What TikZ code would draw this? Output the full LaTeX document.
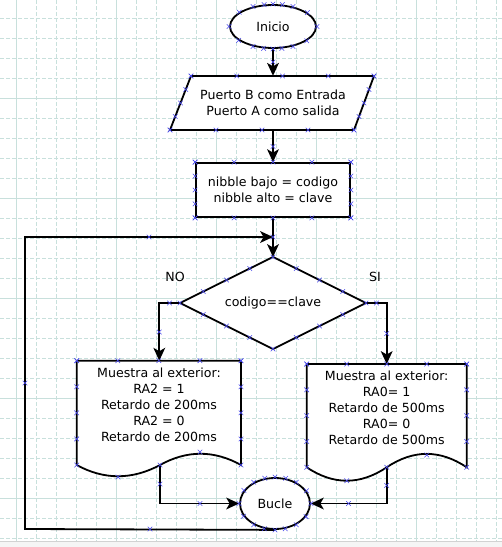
\documentclass[tikz,border=0pt]{standalone}
\usepackage{fontspec}
\setmainfont{DejaVu Sans}
\usetikzlibrary{shapes.geometric,arrows.meta,calc}
\definecolor{gridc}{RGB}{200,224,220}
\definecolor{markc}{RGB}{70,70,235}
\newcommand\dfont{\fontsize{12.6pt}{16pt}\selectfont}
\begin{document}
\begin{tikzpicture}[x=1pt,y=-1pt,
  lw/.style={line width=1.8pt},
  shapebox/.style={draw, lw, fill=white, inner sep=0pt, font=\dfont, align=center},
  txt/.style={inner sep=0pt, font=\dfont, align=center},
  arr/.style={lw, -{Stealth[length=13pt,width=12pt,inset=3.5pt,line width=0pt]}},
  gridl/.style={gridc, line width=0.6pt, dash pattern=on 4pt off 2pt},
  gridm/.style={gridc, line width=0.6pt},
  xm/.pic={\draw[markc, line width=0.55pt] (-2.3,-2.3)--(2.3,2.3) (-2.3,2.3)--(2.3,-2.3);}
]
\useasboundingbox (0,0) rectangle (502,547);
% grid
\foreach \k in {0,...,24} \draw[gridl] ({16.7+20*\k},0) -- ({16.7+20*\k},541.5);
\foreach \k in {0,...,26} \draw[gridl] (0,{18.3+20*\k}) -- (502,{18.3+20*\k});
\foreach \k in {0,...,4} \draw[gridm] ({16.7+100*\k},0) -- ({16.7+100*\k},541.5);
\foreach \k in {0,...,4} \draw[gridm] (0,{98.3+100*\k}) -- (502,{98.3+100*\k});
\fill[gray!8] (0,541.5) rectangle (502,547);
\draw[gray!35, line width=0.8pt] (0,541.5) -- (502,541.5);

% shapes
\node[shapebox, ellipse, minimum width=86pt, minimum height=43pt] (inicio) at (273,26.5) {Inicio};

\draw[lw, fill=white] (191,76) -- (374,76) -- (354,130) -- (170,130) -- cycle;
\node[txt, minimum width=184pt, minimum height=54pt] (io) at (273,103) {Puerto B como Entrada\\Puerto A como salida};

\node[shapebox, rectangle, minimum width=154pt, minimum height=54pt] (proc) at (273,190) {nibble bajo = codigo\\nibble alto = clave};

\coordinate (decN) at (273,257);
\coordinate (decE) at (366,303);
\coordinate (decS) at (273,349);
\coordinate (decW) at (180,303);
\draw[lw, fill=white] (decN) -- (decE) -- (decS) -- (decW) -- cycle;
\node[txt] (dec) at (273,303) {codigo==clave};

\draw[lw, fill=white] (76.7,360.7) -- (241,360.7) -- (241,465) .. controls (214,450) and (187,450) .. (160,465) .. controls (132,480) and (104,480) .. (76.7,465) -- cycle;
\node[txt] (doc1) at (159,405) {Muestra al exterior:\\RA2 = 1\\Retardo de 200ms\\RA2 = 0\\Retardo de 200ms};
\coordinate (doc1top) at (159.3,360.7);
\coordinate (doc1bot) at (160,465);

\draw[lw, fill=white] (306.7,364) -- (466.7,364) -- (466.7,467.3) .. controls (440,449.4) and (413.4,449.4) .. (386.7,467.3) .. controls (360,485.2) and (333.4,485.2) .. (306.7,467.3) -- cycle;
\node[txt] (doc2) at (386.7,407.5) {Muestra al exterior:\\RA0= 1\\Retardo de 500ms\\RA0= 0\\Retardo de 500ms};
\coordinate (doc2top) at (386.7,364);
\coordinate (doc2bot) at (386.7,467.3);

\node[shapebox, ellipse, minimum width=70pt, minimum height=51pt] (bucle) at (275,503.5) {Bucle};

\node[txt] (no) at (175,277) {NO};
\node[txt] (si) at (375,277) {SI};

% connectors
\coordinate (join) at (273,237);
\coordinate (loopx) at (25,529);
\draw[arr] (inicio.south) -- (io.north);
\draw[arr] (io.south) -- (proc.north);
\draw[arr] (proc.south) -- (decN);
\draw[arr] (bucle.south) -- (loopx) |- (join);
\draw[arr] (decW) -| (doc1top);
\draw[arr] (decE) -| (doc2top);
\draw[arr] (doc1bot) |- (bucle.west);
\draw[arr] (doc2bot) |- (bucle.east);

% connection point marks
\foreach \a in {0,22.5,...,337.5} {\pic at (inicio.\a) {xm}; \pic at (bucle.\a) {xm};}
\foreach \u in {0,0.25,0.5,0.75,1} {
  \pic at ($(191,76)!\u!(374,76)$) {xm};
  \pic at ($(170,130)!\u!(354,130)$) {xm};
  \pic at ($(170,130)!\u!(191,76)$) {xm};
  \pic at ($(354,130)!\u!(374,76)$) {xm};
  \pic at ($(proc.north west)!\u!(proc.north east)$) {xm};
  \pic at ($(proc.south west)!\u!(proc.south east)$) {xm};
  \pic at ($(proc.north west)!\u!(proc.south west)$) {xm};
  \pic at ($(proc.north east)!\u!(proc.south east)$) {xm};
  \pic at ($(76.7,360.7)!\u!(241,360.7)$) {xm};
  \pic at ($(76.7,360.7)!\u!(76.7,465)$) {xm};
  \pic at ($(241,360.7)!\u!(241,465)$) {xm};
  \pic at ($(306.7,364)!\u!(466.7,364)$) {xm};
  \pic at ($(306.7,364)!\u!(306.7,467.3)$) {xm};
  \pic at ($(466.7,364)!\u!(466.7,467.3)$) {xm};
}
\foreach \a/\b in {decN/decE,decE/decS,decS/decW,decW/decN}
  \foreach \u in {0,0.25,0.5,0.75} \pic at ($(\a)!\u!(\b)$) {xm};
\foreach \p in {(118,477),(160,465),(200,452),(346.7,480.7),(386.7,467.3),(426.7,455),
  (273,62),(273,146.5),(273,237),(150,529),(25,383),(149,237),(169.5,303),(159.3,332),
  (376.5,303),(386.7,333.5),(160,484),(200,503.5),(386.7,485.4),(348.5,503.5)}
  \pic at \p {xm};
\end{tikzpicture}
\end{document}
